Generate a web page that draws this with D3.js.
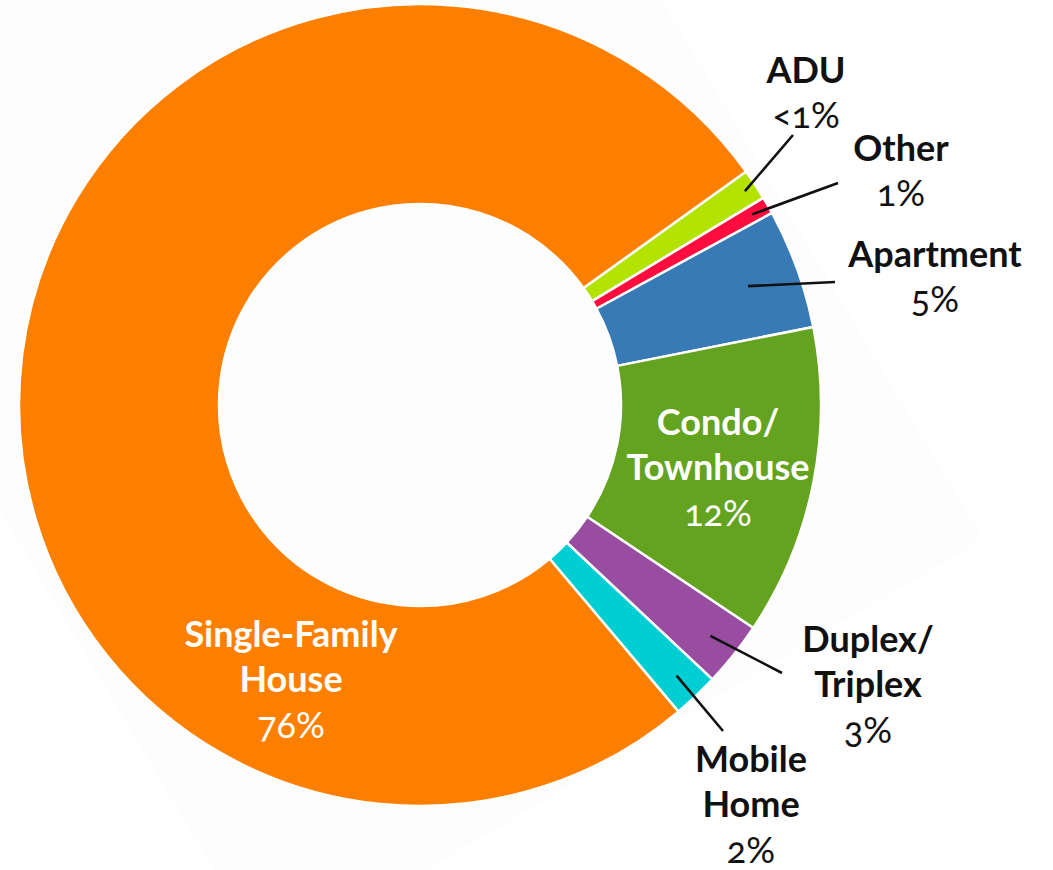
<!DOCTYPE html>
<html>
<head>
<meta charset="utf-8">
<script src="https://cdn.jsdelivr.net/npm/d3@7"></script>
<style>
  html, body { margin: 0; padding: 0; background: #ffffff; }
  svg { display: block; }
  text { font-family: Lato, "Open Sans", sans-serif; font-variant-numeric: oldstyle-nums; }
</style>
</head>
<body>
<svg></svg>
<script>
// housing type shares, clockwise from the ADU slice
var categories = ["ADU", "Other", "Apartment", "Condo/Townhouse", "Duplex/Triplex", "Mobile Home", "Single-Family House"];
var shares = [1.25, 0.69, 4.83, 12.5, 2.61, 1.86, 76.25];
var pctLabels = ["<1%", "1%", "5%", "12%", "3%", "2%", "76%"];
var nameLines = [["ADU"], ["Other"], ["Apartment"], ["Condo/", "Townhouse"], ["Duplex/", "Triplex"], ["Mobile", "Home"], ["Single-Family", "House"]];
var colors = ["#b3e300", "#fe0d3e", "#377ab5", "#64a31f", "#984da1", "#00ced3", "#fd7f00"];

var screen = { width: 1053, height: 870 };
var cx = 420, cy = 405;
var outerR = 401, innerR = 201;
var startDeg = 54.4;

// where each label sits (x center, first baseline), inside labels are white
var layout = [
  { x: 806, y: 83,  inside: false, lead: [0.97, 793, 135] },
  { x: 901, y: 161, inside: false, lead: [0.955, 838, 183] },
  { x: 935, y: 267, inside: false, lead: [0.87, 835, 282] },
  { x: 718, y: 435, inside: true },
  { x: 868, y: 652, inside: false, lead: [0.925, 782, 673] },
  { x: 751, y: 772, inside: false, lead: [0.93, 723, 731] },
  { x: 291, y: 647, inside: true }
];
var lineGap = 45.3;
var fontSize = 36;

var svg = d3.select("svg")
  .attr("width", screen.width)
  .attr("height", screen.height);

// faint off-white panel behind the chart
svg.append("rect")
  .attr("x", -415).attr("y", -800)
  .attr("width", 830).attr("height", 1203)
  .attr("fill", "#fdfdfd")
  .attr("transform", "translate(" + cx + "," + cy + ") rotate(-30.8)");

var plot = svg.append("g").attr("transform", "translate(" + cx + "," + cy + ")");

var pie = d3.pie()
  .sort(null)
  .value(function(d) { return d; })
  .startAngle(startDeg * Math.PI / 180)
  .endAngle(startDeg * Math.PI / 180 + 2 * Math.PI);

var arcs = pie(shares);

var arc = d3.arc().innerRadius(innerR).outerRadius(outerR);

plot.selectAll("path.slice")
  .data(arcs)
  .enter()
  .append("path")
  .attr("class", "slice")
  .attr("d", arc)
  .attr("fill", function(d, i) { return colors[i]; })
  .attr("stroke", "#ffffff")
  .attr("stroke-width", 2.5)
  .attr("stroke-linejoin", "round");

// leader lines from inside the slice to the label
arcs.forEach(function(d, i) {
  var L = layout[i];
  if (!L.lead) return;
  var r = outerR * L.lead[0];
  var p = d3.arc().innerRadius(r).outerRadius(r).centroid(d);
  svg.append("line")
    .attr("x1", cx + p[0]).attr("y1", cy + p[1])
    .attr("x2", L.lead[1]).attr("y2", L.lead[2])
    .attr("stroke", "#111111")
    .attr("stroke-width", 2.6);
});

// labels
categories.forEach(function(c, i) {
  var L = layout[i];
  var fill = L.inside ? "#ffffff" : "#111111";
  var lines = nameLines[i];
  lines.forEach(function(t, k) {
    svg.append("text")
      .attr("x", L.x).attr("y", L.y + k * lineGap)
      .attr("text-anchor", "middle")
      .attr("font-size", fontSize)
      .attr("font-weight", "bold")
      .attr("fill", fill)
      .text(t);
  });
  svg.append("text")
    .attr("x", L.x).attr("y", L.y + lines.length * lineGap)
    .attr("text-anchor", "middle")
    .attr("font-size", fontSize)
    .attr("fill", fill)
    .text(pctLabels[i]);
});
</script>
</body>
</html>
